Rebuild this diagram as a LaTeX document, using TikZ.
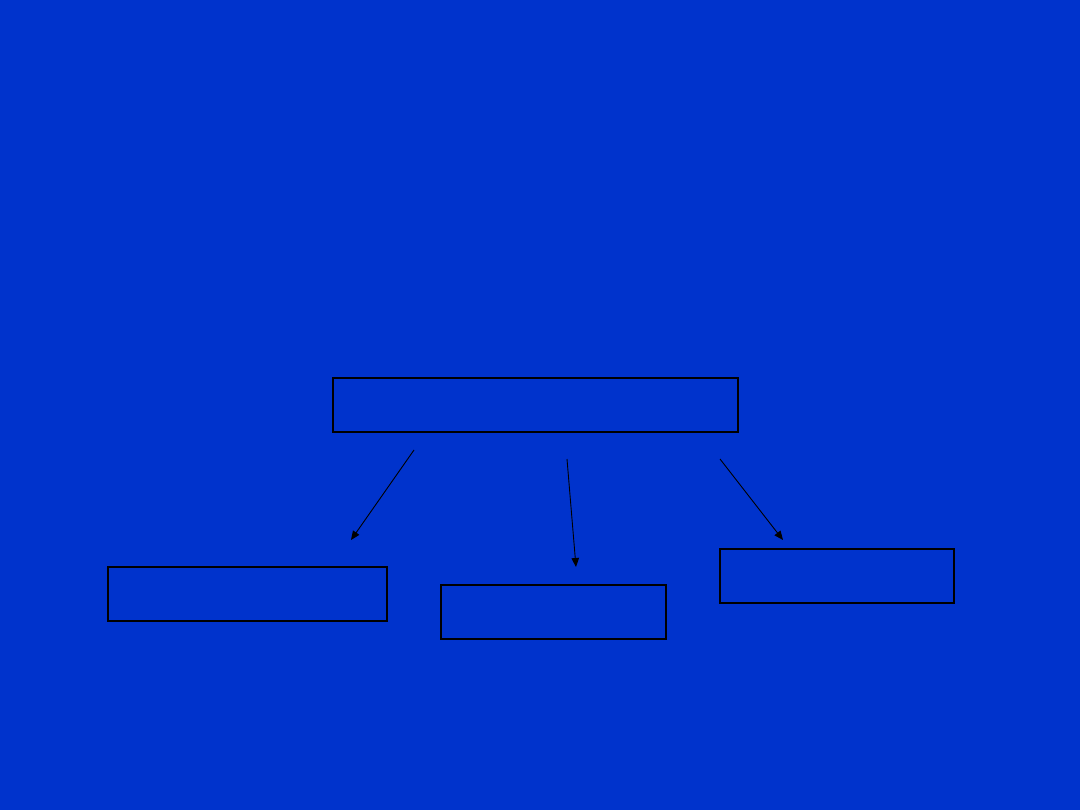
\documentclass[tikz,border=0pt]{standalone}
\usetikzlibrary{arrows.meta}
\definecolor{bg}{HTML}{0033CC}
\begin{document}
\begin{tikzpicture}[x=1pt,y=-1pt,
  box/.style={draw=black,line width=1.4pt},
  arr/.style={draw=black,line width=0.9pt,-{Triangle[length=9pt,width=7.5pt]}}]
\fill[bg] (0,0) rectangle (1080,810);
\useasboundingbox (0,0) rectangle (1080,810);
\draw[box] (333,378) rectangle (738,432);
\draw[box] (108,567) rectangle (387,621);
\draw[box] (441,585) rectangle (666,639);
\draw[box] (720,549) rectangle (954,603);
\coordinate (a1) at (414,450); \coordinate (b1) at (351,540);
\coordinate (a2) at (567,459); \coordinate (b2) at (576,567);
\coordinate (a3) at (720,459); \coordinate (b3) at (783,540);
\draw[arr] (a1) -- (b1);
\draw[arr] (a2) -- (b2);
\draw[arr] (a3) -- (b3);
\end{tikzpicture}
\end{document}
